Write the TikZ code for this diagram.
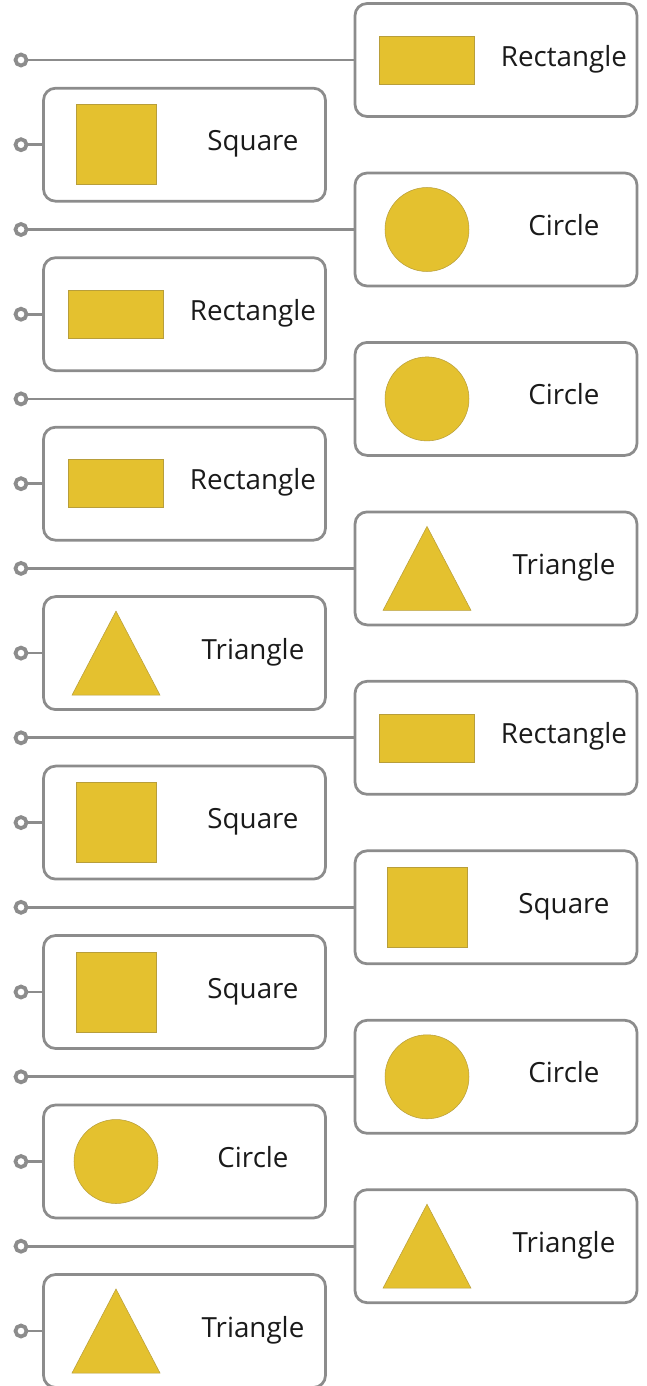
\documentclass[tikz,border=0pt]{standalone}
\usepackage{fontspec}
\setmainfont{Open Sans}
\usetikzlibrary{positioning}
\definecolor{linegray}{HTML}{8C8C8C}
\definecolor{shapeyellow}{HTML}{E4C12F}
\definecolor{shapeedge}{HTML}{B89E3A}
\definecolor{labelink}{HTML}{1A1A1A}
\tikzset{
  dot/.style={circle,draw=linegray,fill=white,line width=0.075cm,minimum size=0.22cm,inner sep=0pt},
  card/.style={rectangle,rounded corners=0.24cm,draw=linegray,fill=white,line width=0.055cm,minimum width=5.64cm,minimum height=2.26cm,inner sep=0pt},
  link/.style={draw=linegray,line width=0.055cm},
  shp/.style={fill=shapeyellow,draw=shapeedge,line width=0.3pt},
  rectshp/.style={shp,rectangle,minimum width=1.9cm,minimum height=0.96cm,inner sep=0pt},
  sqshp/.style={shp,rectangle,minimum width=1.6cm,minimum height=1.6cm,inner sep=0pt},
  circshp/.style={shp,circle,minimum size=1.68cm,inner sep=0pt},
  lbl/.style={anchor=base,text=labelink,font=\fontsize{15.8}{19}\selectfont,inner sep=0pt}
}
\begin{document}
\begin{tikzpicture}[x=0.02cm,y=-0.02cm]
\useasboundingbox (0,0) rectangle (646,1386);

% right column cards
\node[card] (b1) at (496,60) {};
\node[card] (b3) at (496,229.5) {};
\node[card] (b5) at (496,398.9) {};
\node[card] (b7) at (496,568.4) {};
\node[card] (b9) at (496,737.8) {};
\node[card] (b11) at (496,907.3) {};
\node[card] (b13) at (496,1076.8) {};
\node[card] (b15) at (496,1246.2) {};

% left column cards
\node[card] (b2) at (184.5,144.7) {};
\node[card] (b4) at (184.5,314.2) {};
\node[card] (b6) at (184.5,483.7) {};
\node[card] (b8) at (184.5,653.1) {};
\node[card] (b10) at (184.5,822.6) {};
\node[card] (b12) at (184.5,992) {};
\node[card] (b14) at (184.5,1161.5) {};
\node[card] (b16) at (184.5,1331) {};

% dots and links
\node[dot] (c1) at (21,60) {};
\node[dot] (c2) at (21,144.7) {};
\node[dot] (c3) at (21,229.5) {};
\node[dot] (c4) at (21,314.2) {};
\node[dot] (c5) at (21,398.9) {};
\node[dot] (c6) at (21,483.7) {};
\node[dot] (c7) at (21,568.4) {};
\node[dot] (c8) at (21,653.1) {};
\node[dot] (c9) at (21,737.8) {};
\node[dot] (c10) at (21,822.6) {};
\node[dot] (c11) at (21,907.3) {};
\node[dot] (c12) at (21,992) {};
\node[dot] (c13) at (21,1076.8) {};
\node[dot] (c14) at (21,1161.5) {};
\node[dot] (c15) at (21,1246.2) {};
\node[dot] (c16) at (21,1331) {};
\draw[link] (c1) -- (b1);
\draw[link] (c2) -- (b2);
\draw[link] (c3) -- (b3);
\draw[link] (c4) -- (b4);
\draw[link] (c5) -- (b5);
\draw[link] (c6) -- (b6);
\draw[link] (c7) -- (b7);
\draw[link] (c8) -- (b8);
\draw[link] (c9) -- (b9);
\draw[link] (c10) -- (b10);
\draw[link] (c11) -- (b11);
\draw[link] (c12) -- (b12);
\draw[link] (c13) -- (b13);
\draw[link] (c14) -- (b14);
\draw[link] (c15) -- (b15);
\draw[link] (c16) -- (b16);

% shapes
\node[rectshp] (s1) at (427,60) {};
\node[sqshp] (s2) at (116,144.7) {};
\node[circshp] (s3) at (427,229.5) {};
\node[rectshp] (s4) at (116,314.2) {};
\node[circshp] (s5) at (427,398.9) {};
\node[rectshp] (s6) at (116,483.7) {};
\filldraw[shp] (427,526.4) -- (471,610.4) -- (383,610.4) -- cycle;
\filldraw[shp] (116,611.1) -- (160,695.1) -- (72,695.1) -- cycle;
\node[rectshp] (s9) at (427,737.8) {};
\node[sqshp] (s10) at (116,822.6) {};
\node[sqshp] (s11) at (427,907.3) {};
\node[sqshp] (s12) at (116,992) {};
\node[circshp] (s13) at (427,1076.8) {};
\node[circshp] (s14) at (116,1161.5) {};
\filldraw[shp] (427,1204.2) -- (471,1288.2) -- (383,1288.2) -- cycle;
\filldraw[shp] (116,1289) -- (160,1373) -- (72,1373) -- cycle;

% labels
\node[lbl] (t1) at (564,66) {Rectangle};
\node[lbl] (t2) at (253,150.7) {Square};
\node[lbl] (t3) at (564,235.5) {Circle};
\node[lbl] (t4) at (253,320.2) {Rectangle};
\node[lbl] (t5) at (564,404.9) {Circle};
\node[lbl] (t6) at (253,489.7) {Rectangle};
\node[lbl] (t7) at (564,574.4) {Triangle};
\node[lbl] (t8) at (253,659.1) {Triangle};
\node[lbl] (t9) at (564,743.8) {Rectangle};
\node[lbl] (t10) at (253,828.6) {Square};
\node[lbl] (t11) at (564,913.3) {Square};
\node[lbl] (t12) at (253,998) {Square};
\node[lbl] (t13) at (564,1082.8) {Circle};
\node[lbl] (t14) at (253,1167.5) {Circle};
\node[lbl] (t15) at (564,1252.2) {Triangle};
\node[lbl] (t16) at (253,1337) {Triangle};

\end{tikzpicture}
\end{document}
